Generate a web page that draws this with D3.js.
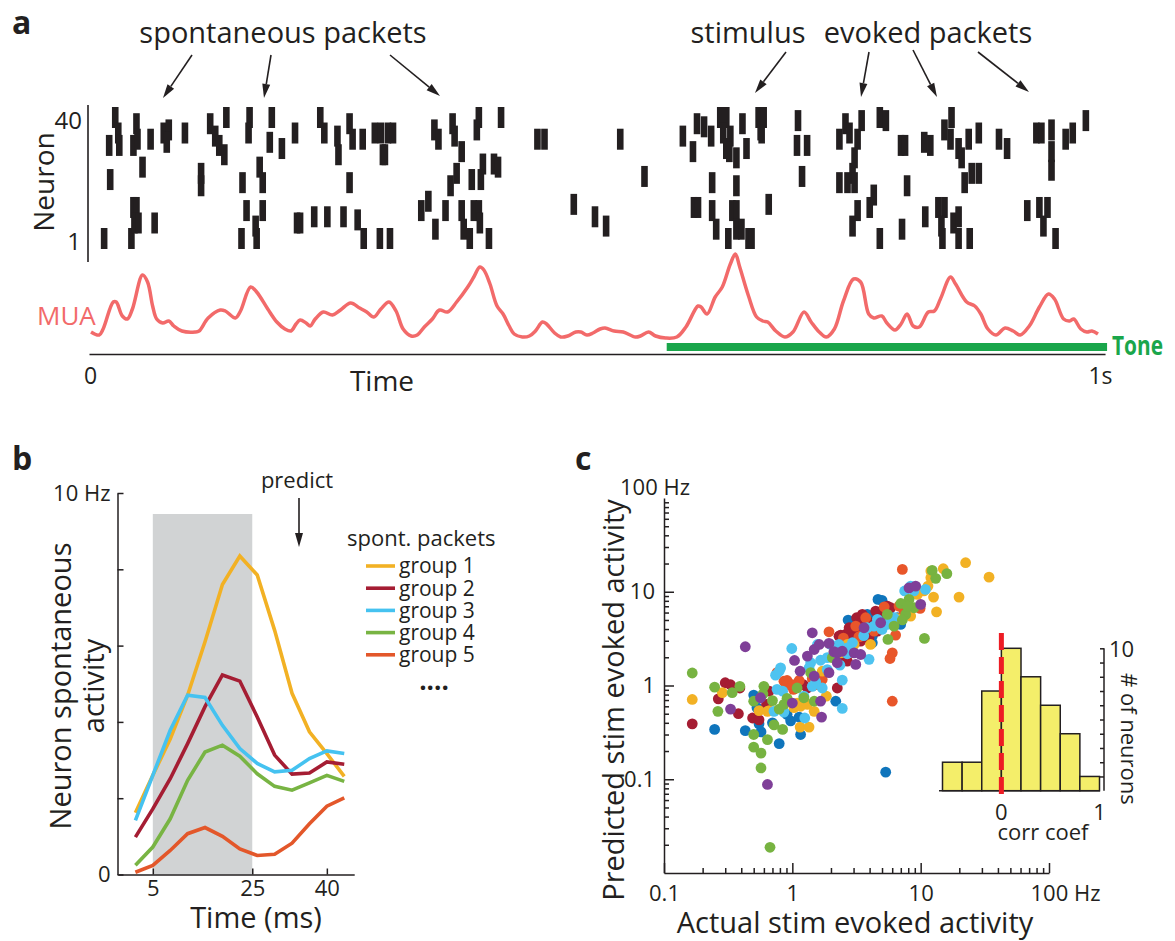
<!DOCTYPE html>
<html>
<head>
<meta charset="utf-8">
<script src="https://cdn.jsdelivr.net/npm/d3@7"></script>
<style>
  body { margin: 0; background: #fff; }
  svg text { font-family: "Open Sans", sans-serif; fill: #231f20; }
</style>
</head>
<body>
<div id="fig"></div>
<script>
// ---------- data ----------
// panel a: raster spikes [time in ms, neuron index 1..40]
var rasterSpikes = [
  [14,1],[19,31],[20,20],[25,40],[28,35],[29,31],[41,1],[43,11],[46,11],[44,6],[48,6],[43,31],[46,38],[47,33],
  [52,24],[60,33],[64,6],[73,35],[78,36],[76,32],[94,35],[110,22],[110,18],[119,38],[124,34],[128,31],[135,40],
  [133,28],[151,19],[155,10],[150,1],[158,40],[157,35],[164,5],[165,1],[168,24],[171,19],[171,10],[178,32],[180,40],
  [190,30],[203,35],[205,6],[208,6],[222,8],[228,40],[232,35],[235,8],[245,34],[246,28],[251,8],[257,38],[260,33],
  [257,19],[265,7],[271,1],[270,33],[282,35],[288,35],[295,35],[300,35],[290,28],[287,1],[297,1],
  [292,28],[341,36],[345,33],[359,38],[361,34],[368,29],[363,22],[357,18],[385,40],[383,36],[407,40],[389,25],
  [378,20],[387,20],[400,25],[404,24],[380,10],[385,10],[386,6],[368,10],[370,4],[376,1],[352,10],[342,4],[335,13],
  [328,10],[395,1],[443,33],[450,33],[525,33],[549,21],[479,12],[500,8],[511,5],[587,34],[601,38],[597,29],[608,37],
  [615,34],[624,40],[630,40],[627,35],[634,34],[630,30],[633,29],[640,27],[646,38],[650,30],[662,40],[665,35],
  [616,19],[640,18],[598,11],[602,11],[616,10],[620,4],[636,10],[640,10],[632,1],[640,4],[645,4],[652,1],[655,1],[672,12],
  [664,36],[667,40],[701,39],[700,31],[710,31],[705,21],[748,38],[742,33],[752,35],[760,33],[757,27],[755,22],
  [742,19],[750,19],[757,19],[764,39],[782,40],[788,39],[760,10],[755,5],[772,11],[776,15],[782,1],[803,31],[807,31],
  [809,18],[804,4],[826,32],[832,31],[827,8],[840,11],[846,11],[843,5],[846,36],[852,33],[853,40],[855,6],[844,1],
  [860,30],[863,27],[860,8],[860,1],[866,19],[870,33],[873,22],[880,22],[880,35],[871,1],[900,33],[908,30],[928,10],
  [937,35],[942,35],[952,36],[952,29],[952,23],[940,11],[948,11],[944,5],[956,1],[966,33],[973,35],[986,39]
];

// panel a: multi-unit activity trace [time in ms, level (a.u.)]
var muaTrace = [
  [1,13],[9,10],[13,16],[23,43],[26,43],[32,29],[37,26],[42,36],[52,70],[57,63],[62,39],[66,26],[72,22],[78,24],
  [83,19],[91,14],[104,13],[108,14],[117,27],[129,35],[134,34],[144,27],[149,34],[159,58],[165,53],[176,36],[185,23],
  [193,16],[199,14],[204,21],[208,25],[214,22],[218,19],[223,26],[231,33],[240,30],[248,35],[258,42],[267,37],[274,33],
  [281,28],[288,36],[296,43],[303,34],[310,16],[318,9],[324,10],[331,18],[339,26],[346,35],[354,33],[363,43],[374,58],
  [380,68],[386,78],[390,75],[396,61],[403,39],[409,31],[415,19],[420,11],[428,8],[435,9],[441,14],[448,23],[452,21],
  [460,12],[466,8],[473,9],[481,13],[486,13],[492,10],[498,12],[505,16],[510,17],[519,14],[528,13],[540,8],[545,9],
  [553,13],[560,9],[570,7],[581,8],[590,18],[602,39],[605,38],[611,31],[619,48],[626,58],[634,81],[639,91],[643,79],
  [652,49],[660,28],[666,24],[671,23],[679,14],[688,8],[696,13],[707,33],[714,23],[722,13],[729,8],[737,16],[746,44],
  [756,66],[763,63],[771,31],[776,27],[784,29],[789,22],[797,15],[803,21],[809,31],[815,19],[821,18],[830,33],[836,34],
  [842,46],[852,68],[857,61],[868,43],[876,39],[882,31],[889,16],[897,10],[906,17],[914,14],[921,10],[930,19],[940,38],
  [949,51],[955,46],[964,26],[970,24],[974,26],[981,16],[987,13],[992,14],[998,11]
];
var toneOn = 571, toneOff = 1007;   // ms

// panel b: spontaneous activity per packet group
var packetTime = [1.5, 5, 8.5, 12, 15.5, 19, 22.5, 26, 29.5, 33, 36.5, 40, 43.5];   // ms
var group1 = [1.62, 2.6, 3.55, 4.7, 6.1, 7.6, 8.35, 7.85, 6.4, 4.75, 3.74, 3.17, 2.57];
var group2 = [0.98, 1.72, 2.51, 3.43, 4.4, 5.23, 5.07, 4.13, 3.13, 2.63, 2.66, 2.95, 2.89];
var group3 = [1.42, 2.6, 3.78, 4.7, 4.64, 3.91, 3.3, 2.91, 2.69, 2.73, 3.04, 3.24, 3.17];
var group4 = [0.24, 0.72, 1.46, 2.47, 3.21, 3.39, 3.1, 2.64, 2.31, 2.21, 2.4, 2.6, 2.44];
var group5 = [0.06, 0.24, 0.63, 1.07, 1.23, 1.0, 0.67, 0.5, 0.53, 0.82, 1.33, 1.79, 2.01];
var groupNames = ["group 1", "group 2", "group 3", "group 4", "group 5"];
var groupColors = ["#f2b124", "#a51d33", "#45c2f0", "#78b443", "#e3572a"];
var predictWindow = [5, 25];   // ms

// panel c: [actual Hz, predicted Hz] per neuron, split by colour
var cellsBlue = [[0.248,0.34],[0.43,0.33],[0.50,0.79],[0.55,0.39],[0.57,0.32],[0.70,0.40],[0.79,0.24],[0.97,0.42],
  [1.13,0.46],[1.16,0.30],[2.18,0.68],[2.72,4.99],[3.84,5.73],[4.2,3.36],[4.2,2.86],[4.65,8.28],[5.0,8.1],[5.66,6.22],
  [5.34,0.119],[6.38,4.67],[6.98,4.48],[3.0,3.0],[4.5,5.3],[5.0,5.5],[0.53,0.58],[3.21,2.97],[4.33,5.28],[6.58,5.28],
  [0.91,0.49]];
var cellsRed = [[0.166,0.39],[0.265,0.72],[0.30,1.07],[0.33,1.02],[0.39,0.94],[0.38,0.50],[0.49,0.45],[0.55,0.43],
  [0.66,0.87],[0.63,0.63],[1.22,1.02],[2.24,0.94],[2.31,3.36],[2.68,1.82],[2.6,3.5],[3.41,2.97],[2.94,3.8],[3.17,5.28],
  [3.51,5.73],[3.84,4.41],[3.96,3.23],[5.5,7.03],[5.84,6.75],[2.38,3.45],[2.85,4.1],[3.3,4.5],[4.7,6.0],[3.03,3.23],
  [2.77,4.13],[3.41,3.8],[4.07,4.67],[4.6,3.8],[4.46,6.22],[2.52,1.98],[1.31,0.94]];
var cellsOrange = [[0.76,1.37],[0.86,1.11],[0.91,1.13],[1.02,0.91],[1.13,1.13],[1.43,1.19],[1.71,1.16],[1.93,3.74],
  [2.77,2.23],[3.12,4.3],[4.33,3.8],[4.88,4.67],[6.38,3.45],[6.01,2.23],[5.77,1.94],[6.01,0.68],[7.2,17.3],[6.78,7.03],
  [9.9,6.64],[2.5,3.2],[3.3,3.3],[5.2,6.9],[0.91,1.02],[1.0,1.02],[2.55,2.52],[3.73,5.28],[7.4,6.22],[3.41,3.36],
  [1.57,1.02]];
var cellsYellow = [[0.166,0.71],[0.285,0.84],[0.55,0.54],[0.66,0.54],[1.03,0.58],[1.16,0.60],[1.15,0.36],[1.35,0.36],
  [1.31,0.63],[1.48,0.53],[1.84,0.77],[2.11,2.23],[2.68,2.74],[3.03,2.74],[8.36,5.5],[9.42,9.37],[11.4,11.5],[12.0,14.1],
  [12.6,8.77],[13.3,6.11],[12.0,16.6],[15.0,17.6],[19.9,8.77],[22.4,20.4],[34.1,14.3],[6.5,5.2],[0.64,0.53],[1.09,0.65],
  [1.71,1.42],[10.6,10.2],[2.38,2.23],[4.07,2.74]];
var cellsCyan = [[0.74,1.29],[0.81,1.54],[0.76,0.91],[0.84,0.87],[0.86,0.52],[1.23,0.77],[1.25,0.45],[1.43,0.98],
  [1.52,1.09],[1.35,1.54],[1.39,1.75],[1.57,2.74],[0.99,2.48],[1.66,1.86],[2.45,0.57],[2.45,1.14],[2.35,1.65],[1.99,2.74],
  [2.31,2.74],[2.68,2.18],[3.96,1.9],[4.6,5.07],[5.0,3.96],[6.2,5.28],[8.36,11.5],[10.9,10.6],[3.6,3.4],[5.8,5.0],[7.5,10.2],
  [0.79,1.42],[1.87,1.98],[2.94,2.86],[4.33,4.3],[5.5,4.48],[8.87,10.2],[3.84,4.13],[1.87,1.48],[2.68,2.52],[0.72,0.53],
  [1.71,0.94]];
var cellsGreen = [[0.166,1.36],[0.248,0.96],[0.263,0.53],[0.34,0.84],[0.39,0.98],[0.50,0.68],[0.50,0.30],[0.50,0.22],
  [0.57,0.19],[0.57,0.132],[0.67,0.0188],[0.64,0.265],[0.60,0.98],[0.70,0.69],[0.72,0.38],[0.84,0.34],[0.79,0.56],
  [0.91,0.73],[1.23,0.74],[1.48,0.68],[1.39,1.37],[5.5,5.73],[5.56,3.1],[7.64,5.73],[8.11,8.28],[8.87,6.75],[10.7,3.18],
  [12.3,16.9],[13.1,13.9],[16.0,15.6],[7.2,5.0],[7.0,7.5],[0.59,0.81],[6.2,4.3],[7.87,7.03],[2.05,1.98],[0.86,0.63],
  [1.09,0.94]];
var cellsPurple = [[0.33,0.56],[0.43,2.59],[0.64,0.088],[0.565,0.74],[1.04,1.85],[1.66,0.68],[1.69,0.46],[1.48,1.26],
  [1.15,1.42],[1.31,2.06],[1.48,2.42],[1.43,3.65],[1.93,2.81],[1.93,1.37],[2.11,2.29],[2.45,2.32],[3.12,1.68],[3.03,2.23],
  [3.41,2.14],[3.62,4.13],[8.11,11.0],[9.14,11.5],[10,7.33],[1.0,0.65],[2.24,2.23],[4.88,4.67],[1.62,2.74],[2.24,1.75]];

// panel c inset: histogram of correlation coefficients
var corrBinStart = [-0.6, -0.4, -0.2, 0, 0.2, 0.4, 0.6, 0.8];
var corrCounts = [2, 2, 7, 10, 8, 6, 4, 1];
var corrBinWidth = 0.2;

// ---------- drawing ----------
var ink = "#231f20";
var svg = d3.select("#fig").append("svg")
  .attr("width", 1175)
  .attr("height", 941);

// draws a line with a narrow filled arrow head at (x2, y2)
function arrow(g, x1, y1, x2, y2) {
  var dx = x2 - x1, dy = y2 - y1, len = Math.sqrt(dx * dx + dy * dy);
  var ux = dx / len, uy = dy / len, head = 14, half = 4;
  var bx = x2 - ux * head, by = y2 - uy * head;
  g.append("line")
    .attr("x1", x1).attr("y1", y1).attr("x2", bx).attr("y2", by)
    .attr("stroke", ink).attr("stroke-width", 1.6);
  g.append("path")
    .attr("d", "M" + x2 + "," + y2 + "L" + (bx - uy * half) + "," + (by + ux * half) +
      "L" + (bx + uy * half) + "," + (by - ux * half) + "Z")
    .attr("fill", ink);
}

function label(x, y, txt, size, anchor) {
  return svg.append("text").attr("x", x).attr("y", y)
    .attr("font-size", size).attr("text-anchor", anchor || "start").text(txt);
}

// ===== panel a =====
label(12, 34, "a", 32).attr("font-weight", "bold");
label(283, 43, "spontaneous packets", 29, "middle");
label(748, 43, "stimulus", 29, "middle");
label(928, 43, "evoked packets", 29, "middle");

var arrowsA = svg.append("g");
arrow(arrowsA, 192, 55, 163, 98);
arrow(arrowsA, 271, 55, 264, 98);
arrow(arrowsA, 390, 55, 440, 96);
arrow(arrowsA, 786, 52, 755, 93);
arrow(arrowsA, 869, 52, 861, 97);
arrow(arrowsA, 913, 50, 937, 97);
arrow(arrowsA, 978, 52, 1029, 92);

var timeX = d3.scaleLinear().domain([0, 1000]).range([90, 1100]);
var neuronY = d3.scaleLinear().domain([1, 40]).range([238.5, 117.5]);

svg.append("g").selectAll("rect")
  .data(rasterSpikes)
  .join("rect")
  .attr("x", d => timeX(d[0]) - 3.3)
  .attr("y", d => neuronY(d[1]) - 10.5)
  .attr("width", 6.6)
  .attr("height", 21)
  .attr("fill", ink);

// neuron axis
svg.append("line").attr("x1", 88).attr("x2", 88).attr("y1", 105).attr("y2", 262)
  .attr("stroke", ink).attr("stroke-width", 1.6);
label(82, 129, "40", 24, "end");
label(81, 250, "1", 24, "end");
svg.append("text")
  .attr("transform", "translate(54,182) rotate(-90)")
  .attr("font-size", 28).attr("text-anchor", "middle").text("Neuron");

// MUA trace
var muaY = d3.scaleLinear().domain([0, 100]).range([345, 245]);
svg.append("path")
  .datum(muaTrace)
  .attr("d", d3.line().x(d => timeX(d[0])).y(d => muaY(d[1])).curve(d3.curveCatmullRom))
  .attr("fill", "none")
  .attr("stroke", "#f26a6a")
  .attr("stroke-width", 3.5);
label(37, 325, "MUA", 26).style("fill", "#f26a6a");

// tone bar
svg.append("rect")
  .attr("x", timeX(toneOn)).attr("width", timeX(toneOff) - timeX(toneOn))
  .attr("y", 343).attr("height", 8)
  .attr("fill", "#1aa64b");
label(1112, 355, "Tone", 26).attr("font-weight", "bold")
  .attr("textLength", 51).attr("lengthAdjust", "spacingAndGlyphs")
  .style("fill", "#1aa64b");

// time axis
var timeAxisScale = timeX.copy().domain([-1, 1005]).range([timeX(-1), timeX(1005)]);
var timeAxis = svg.append("g")
  .attr("transform", "translate(0,354)")
  .call(d3.axisBottom(timeAxisScale).tickValues([0, 1000]).tickSize(0).tickPadding(14)
    .tickFormat(d => d === 0 ? "0" : "1s"));
timeAxis.select(".domain").attr("stroke", ink).attr("stroke-width", 1.6);
timeAxis.selectAll("text").attr("font-size", 23).style("font-family", "Open Sans");
label(382, 391, "Time", 28, "middle");

// ===== panel b =====
label(12, 470, "b", 32).attr("font-weight", "bold");

var bX = d3.scaleLinear().domain([-2, 45.5]).range([118, 354.2]);
var bY = d3.scaleLinear().domain([0, 10]).range([874.5, 493]);

svg.append("rect")
  .attr("x", bX(predictWindow[0])).attr("width", bX(predictWindow[1]) - bX(predictWindow[0]))
  .attr("y", bY(9.45)).attr("height", bY(0) - bY(9.45))
  .attr("fill", "#d1d3d4");

var yAxisB = svg.append("g")
  .attr("transform", "translate(117.5,0)")
  .call(d3.axisLeft(bY).tickValues([0, 2, 4, 6, 8, 10]).tickSizeInner(-6).tickSizeOuter(0).tickPadding(7)
    .tickFormat(d => d === 0 ? "0" : d === 10 ? "10 Hz" : ""));
var xAxisB = svg.append("g")
  .attr("transform", "translate(0,874.5)")
  .call(d3.axisBottom(bX).tickValues([5, 25, 40]).tickSizeInner(-6).tickSizeOuter(0).tickPadding(6));
[yAxisB, xAxisB].forEach(function(ax) {
  ax.selectAll("path, line").attr("stroke", ink).attr("stroke-width", 1.5);
  ax.selectAll("text").attr("font-size", 22).style("font-family", "Open Sans").style("fill", ink);
});

var bSeries = [group1, group2, group3, group4, group5];
var drawOrder = [0, 1, 3, 4, 2];
var bLine = d3.line().x((d, i) => bX(packetTime[i])).y(d => bY(d));
svg.append("g").selectAll("path")
  .data(drawOrder)
  .join("path")
  .attr("d", k => bLine(bSeries[k]))
  .attr("fill", "none")
  .attr("stroke", k => groupColors[k])
  .attr("stroke-width", 3.6);

// predict arrow
label(297, 488, "predict", 22, "middle");
arrow(svg.append("g"), 299, 498, 299, 547);

// legend
label(347, 546, "spont. packets", 22);
var legend = svg.append("g").selectAll("g")
  .data(groupNames)
  .join("g")
  .attr("transform", (d, i) => "translate(366," + (566 + i * 22.2) + ")");
legend.append("line").attr("x1", 0).attr("x2", 29)
  .attr("stroke", (d, i) => groupColors[i]).attr("stroke-width", 3.6);
legend.append("text").attr("x", 33).attr("dy", "0.35em")
  .attr("font-size", 21).text(d => d);
label(434, 690, "....", 26, "middle").attr("font-weight", "bold");

svg.append("text")
  .attr("transform", "translate(71,686) rotate(-90)")
  .attr("font-size", 29).attr("text-anchor", "middle").text("Neuron spontaneous");
svg.append("text")
  .attr("transform", "translate(104,686) rotate(-90)")
  .attr("font-size", 29).attr("text-anchor", "middle").text("activity");
label(256, 928, "Time (ms)", 29, "middle");

// ===== panel c =====
label(575, 470, "c", 32).attr("font-weight", "bold");

var cX = d3.scaleLog().domain([0.1, 100]).range([664, 1049]);
var cY = d3.scaleLog().domain([0.01, 100]).range([873, 498]);

var minorX = [], minorY = [];
[0.01, 0.1, 1, 10].forEach(function(dec) {
  for (var m = 2; m <= 9; m++) {
    if (dec >= 0.1) minorX.push(dec * m);
    minorY.push(dec * m);
  }
});

var yAxisC = svg.append("g").attr("transform", "translate(664,0)");
yAxisC.call(d3.axisLeft(cY).tickValues([0.1, 1, 10]).tickSizeInner(-10).tickSizeOuter(0).tickPadding(9)
  .tickFormat(d3.format("~g")));
yAxisC.append("g").call(d3.axisLeft(cY).tickValues(minorY).tickSizeInner(-5).tickSizeOuter(0).tickFormat(""))
  .select(".domain").remove();

var xAxisC = svg.append("g").attr("transform", "translate(0,873)");
xAxisC.call(d3.axisBottom(cX).tickValues([0.1, 1, 10, 100]).tickSizeInner(-10).tickSizeOuter(0).tickPadding(12)
  .tickFormat(d3.format("~g")));
xAxisC.append("g").call(d3.axisBottom(cX).tickValues(minorX).tickSizeInner(-5).tickSizeOuter(0).tickFormat(""))
  .select(".domain").remove();

[yAxisC, xAxisC].forEach(function(ax) {
  ax.selectAll("path, line").attr("stroke", ink).attr("stroke-width", 1.5);
  ax.selectAll("text").attr("font-size", 22).style("font-family", "Open Sans").style("fill", ink);
});
xAxisC.selectAll(".tick text").filter(d => d === 100)
  .attr("text-anchor", "start").attr("x", -19).text("100 Hz");
label(620, 495, "100 Hz", 22);

svg.append("text")
  .attr("transform", "translate(624,700) rotate(-90)")
  .attr("font-size", 29).attr("text-anchor", "middle").text("Predicted stim evoked activity");
label(855, 933, "Actual stim evoked activity", 29, "middle");

var cellGroups = [
  { color: "#0f75bc", cells: cellsBlue },
  { color: "#a51d33", cells: cellsRed },
  { color: "#e8562a", cells: cellsOrange },
  { color: "#f2b124", cells: cellsYellow },
  { color: "#4ec3f0", cells: cellsCyan },
  { color: "#77b341", cells: cellsGreen },
  { color: "#7f3f98", cells: cellsPurple }
];
var dots = svg.append("g");
cellGroups.forEach(function(grp) {
  dots.append("g").selectAll("circle")
    .data(grp.cells)
    .join("circle")
    .attr("cx", d => cX(d[0]))
    .attr("cy", d => cY(d[1]))
    .attr("r", 5.4)
    .attr("fill", grp.color);
});

// inset histogram
var hX = d3.scaleLinear().domain([-0.6, 1.0]).range([942.5, 1099.5]);
var hY = d3.scaleLinear().domain([0, 10]).range([790.7, 648.3]);

svg.append("g").selectAll("rect")
  .data(corrCounts)
  .join("rect")
  .attr("x", (d, i) => hX(corrBinStart[i]))
  .attr("width", hX(corrBinWidth) - hX(0))
  .attr("y", d => hY(d))
  .attr("height", d => hY(0) - hY(d))
  .attr("fill", "#f4ee6a")
  .attr("stroke", ink)
  .attr("stroke-width", 1.5);

svg.append("line").attr("x1", 939).attr("x2", 1100).attr("y1", hY(0)).attr("y2", hY(0))
  .attr("stroke", ink).attr("stroke-width", 1.5);

var hAxis = svg.append("g")
  .attr("transform", "translate(1104,0)")
  .call(d3.axisRight(hY).tickValues(d3.range(1, 11)).tickSizeInner(-4).tickSizeOuter(0).tickFormat(""));
hAxis.select(".domain").attr("d", "M0," + hY(0) + "V" + hY(10));
hAxis.selectAll("path, line").attr("stroke", ink).attr("stroke-width", 1.5);
label(1109, 657, "10", 22);
svg.append("text")
  .attr("transform", "translate(1121,673) rotate(90)")
  .attr("font-size", 22).text("# of neurons");

svg.append("line")
  .attr("x1", hX(0)).attr("x2", hX(0)).attr("y1", 633).attr("y2", 797)
  .attr("stroke", "#ed1c24").attr("stroke-width", 5).attr("stroke-dasharray", "17,7");

label(hX(0), 820, "0", 22, "middle");
label(hX(1), 820, "1", 22, "middle");
label(1043, 840, "corr coef", 22, "middle");
</script>
</body>
</html>
